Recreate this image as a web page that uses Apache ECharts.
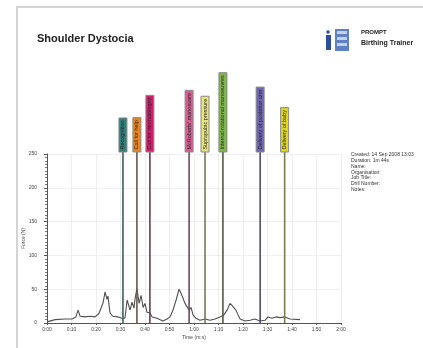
<!DOCTYPE html>
<html>
<head>
<meta charset="utf-8">
<script src="https://cdn.jsdelivr.net/npm/echarts@6/dist/echarts.min.js"></script>
<style>
  html, body { margin: 0; padding: 0; background: #fff; }
  #chart { width: 423px; height: 348px; }
</style>
</head>
<body>
<div id="chart"></div>
<script>
// force trace: time in seconds, force in N
const traceTime = [0.4, 3.3, 7.3, 10.2, 11.8, 12.7, 13.5, 15.5, 17.6, 19.6, 21.2, 22, 22.9, 23.7, 24.5, 24.9, 25.7, 26.9, 29, 30.6,
  31.8, 32.7, 33.9, 34.7, 35.5, 35.9, 36.7, 37.6, 38.4, 39.2, 40, 40.8, 42, 42.9, 44.9, 47.3, 49, 50.2, 51.4, 52.7,
  53.9, 54.7, 55.5, 56.3, 57.1, 58, 58.8, 59.6, 60.8, 62.4, 64.5, 66.5, 68.6, 70.6, 72.2, 73.5, 74.7, 75.5, 76.3, 77.1,
  78, 78.8, 80.8, 82.9, 84.9, 86.9, 89, 90.2, 91.8, 93.5, 95.1, 97.1, 99.2, 103.3]
const traceForce = [2, 5, 6, 6, 9, 19, 10, 9, 10, 9, 14, 12, 30, 46, 35, 40, 15, 10, 9, 7,
  7, 34, 19, 31, 22, 35, 51, 29, 41, 23, 29, 16, 15, 9, 7, 3, 6, 9, 19, 34,
  50, 44, 37, 29, 31, 19, 23, 12, 7, 4, 6, 4, 6, 9, 12, 19, 29, 26, 24, 19,
  12, 6, 3, 4, 6, 3, 4, 9, 7, 9, 8, 9, 6, 5]

// event markers
const eventTime = [31, 36.7, 42, 58, 64.5, 71.8, 87, 97]
const eventLabel = ['Recognition', 'Call for help', 'Call for neonatologist', 'McRoberts\' manoeuvre',
  'Suprapubic pressure', 'Internal rotational manoeuvres', 'Delivery of posterior arm', 'Delivery of baby']
const eventFill = ['#2f7f7b', '#ea8420', '#d8196f', '#d85a92', '#e6e27c', '#7fb848', '#6c66b2', '#dcd523']
const eventLine = ['#3d5f62', '#6e5446', '#6b3c52', '#6b4c5c', '#7b7a55', '#4d5c3e', '#4c4b6c', '#7c7a45']

const yTicks = [0, 50, 100, 150, 200, 250]
const infoLines = ['Created: 14 Sep 2008 13:03', 'Duration: 1m 44s', 'Name:', 'Organisation:', 'Job Title:', 'Drill Number:', 'Notes:']

const ctx = document.createElement('canvas').getContext('2d')
ctx.font = '5.5px Arial'
function textLen(s) { return ctx.measureText(s).width }

const chart = echarts.init(document.getElementById('chart'), null, { renderer: 'canvas' })

function mmss(v) {
  const m = Math.floor(v / 60)
  const s = Math.round(v % 60)
  return m + ':' + (s < 10 ? '0' + s : s)
}

const option = {
  animation: false,
  backgroundColor: '#fff',
  title: {
    text: 'Shoulder Dystocia',
    left: 32, top: 28,
    textStyle: { fontFamily: 'Arial', fontSize: 11, fontWeight: 'bold', color: '#222' }
  },
  grid: { left: 47, right: 82, top: 154, bottom: 25 },
  xAxis: {
    type: 'value', min: 0, max: 120, interval: 10,
    name: 'Time (m:s)', nameLocation: 'middle', nameGap: 12, nameMoveOverlap: false,
    nameTextStyle: { fontFamily: 'Arial', fontSize: 5, color: '#444' },
    axisLine: { lineStyle: { color: '#555', width: 1 } },
    axisTick: { length: 2, lineStyle: { color: '#555' } },
    axisLabel: { formatter: mmss, fontFamily: 'Arial', fontSize: 5, color: '#444', margin: 4 },
    splitLine: { show: true, lineStyle: { color: '#eeeeee', width: 1 } }
  },
  yAxis: {
    type: 'value', min: 0, max: 250, interval: 50,
    name: 'Force (N)', nameLocation: 'middle', nameGap: 21, nameRotate: 90, nameMoveOverlap: false,
    nameTextStyle: { fontFamily: 'Arial', fontSize: 5, color: '#444' },
    axisLine: { show: true, lineStyle: { color: '#555', width: 1 } },
    axisTick: { show: true, length: 3, lineStyle: { color: '#555' } },
    minorTick: { show: true, splitNumber: 10, length: 2, lineStyle: { color: '#777' } },
    axisLabel: {
      fontFamily: 'Arial', fontSize: 5, color: '#444', margin: 10,
      formatter: v => yTicks.indexOf(v) >= 0 ? String(v) : ''
    },
    splitLine: { show: true, lineStyle: { color: '#f0f0f0', width: 1 } }
  },
  graphic: [
    { type: 'rect', shape: { x: 17, y: 7, width: 440, height: 360 }, style: { fill: 'none', stroke: '#d4d4d4', lineWidth: 2 }, silent: true },
    // logo
    { type: 'rect', shape: { x: 335, y: 29, width: 14, height: 22 }, style: { fill: '#5f80c2' } },
    { type: 'rect', shape: { x: 337, y: 31, width: 10, height: 3 }, style: { fill: '#c3d1ec' } },
    { type: 'rect', shape: { x: 337, y: 37, width: 10, height: 3 }, style: { fill: '#c3d1ec' } },
    { type: 'rect', shape: { x: 337, y: 43, width: 10, height: 3 }, style: { fill: '#c3d1ec' } },
    { type: 'circle', shape: { cx: 328, cy: 32, r: 1.8 }, style: { fill: '#2b4f9c' } },
    { type: 'rect', shape: { x: 326, y: 35, width: 5, height: 15 }, style: { fill: '#2b4f9c' } },
    { type: 'text', left: 361, top: 29, style: { text: 'PROMPT', font: 'bold 6px Arial', fill: '#222' } },
    { type: 'text', left: 361, top: 40, style: { text: 'Birthing Trainer', font: 'bold 7px Arial', fill: '#222' } },
    { type: 'text', left: 351, top: 152, style: { text: infoLines.join('\n'), font: '5px Arial', lineHeight: 5.8, fill: '#333' } }
  ],
  series: [
    {
      type: 'line',
      data: traceTime.map((t, i) => [t, traceForce[i]]),
      showSymbol: false,
      lineStyle: { color: '#505050', width: 1.1 },
      z: 3
    },
    {
      type: 'custom',
      data: eventTime.map((t, i) => [t, i]),
      z: 5,
      clip: false,
      renderItem: function (params, api) {
        const i = api.value(1)
        const base = api.coord([api.value(0), 0])
        const top = api.coord([api.value(0), 250])
        const label = eventLabel[i]
        const h = textLen(label) + 5
        const w = 8
        const boxBottom = top[1] - 2
        return {
          type: 'group',
          children: [
            { type: 'line', shape: { x1: base[0], y1: base[1], x2: base[0], y2: boxBottom }, style: { stroke: eventLine[i], lineWidth: 1.6 } },
            { type: 'rect', shape: { x: base[0] - w / 2, y: boxBottom - h, width: w, height: h },
              style: { fill: eventFill[i], stroke: '#8a8a8a', lineWidth: 1 } },
            { type: 'text', x: base[0], y: boxBottom - h / 2, rotation: Math.PI / 2,
              style: { text: label, font: '5.5px Arial', fill: '#2a2a2a', align: 'center', verticalAlign: 'middle' } }
          ]
        }
      }
    }
  ]
}
chart.setOption(option)
</script>
</body>
</html>
